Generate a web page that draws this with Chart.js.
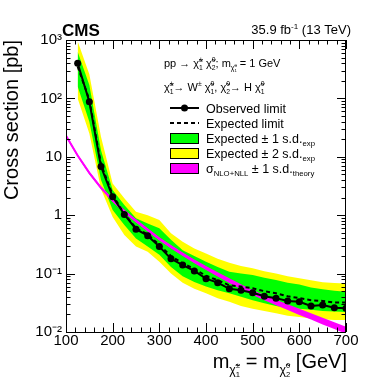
<!DOCTYPE html>
<html>
<head>
<meta charset="utf-8">
<script src="https://cdn.jsdelivr.net/npm/chart.js@4.4.1/dist/chart.umd.min.js"></script>
<style>
  html, body { margin: 0; padding: 0; background: #fff; }
  canvas { display: block; }
</style>
</head>
<body>
<canvas id="limitChart" width="366" height="391"></canvas>
<script>
// Masas de los puntos de la exclusión (GeV)
const masses = [125, 150, 175, 200, 225, 250, 275, 300, 325, 350, 375, 400,
                425, 450, 475, 500, 525, 550, 575, 600, 625, 650, 675, 700];

// Límites (pb)
const observed = [400, 88, 6.8, 2.07, 1.03, 0.575, 0.446, 0.29, 0.18, 0.140, 0.111, 0.082,
                  0.070, 0.055, 0.052, 0.047, 0.041, 0.038, 0.034, 0.033, 0.028, 0.029, 0.026, 0.0255];
const expected = [350, 95, 7.5, 2.2, 1.06, 0.60, 0.47, 0.31, 0.20, 0.15, 0.12, 0.092,
                  0.077, 0.063, 0.060, 0.056, 0.050, 0.046, 0.041, 0.038, 0.035, 0.034, 0.032, 0.032];
const exp1Up   = [630, 170, 13, 2.7, 1.5, 0.89, 0.72, 0.60, 0.38, 0.25, 0.20, 0.16,
                  0.13, 0.108, 0.100, 0.095, 0.085, 0.078, 0.070, 0.065, 0.058, 0.054, 0.051, 0.049];
const exp1Down = [160, 40, 4.0, 1.23, 0.68, 0.40, 0.29, 0.21, 0.13, 0.090, 0.072, 0.060,
                  0.052, 0.046, 0.040, 0.035, 0.031, 0.028, 0.026, 0.025, 0.024, 0.023, 0.0225, 0.022];
const exp2Up   = [950, 260, 22, 3.5, 1.95, 1.15, 1.0, 0.83, 0.49, 0.35, 0.27, 0.22,
                  0.18, 0.154, 0.135, 0.123, 0.110, 0.100, 0.090, 0.083, 0.077, 0.071, 0.069, 0.068];
const exp2Down = [100, 25, 2.8, 0.93, 0.46, 0.29, 0.237, 0.16, 0.10, 0.070, 0.055, 0.046,
                  0.038, 0.033, 0.028, 0.025, 0.023, 0.021, 0.019, 0.018, 0.017, 0.0165, 0.016, 0.016];

// Sección eficaz teórica NLO+NLL (pb)
const theoryMasses = [100, 125, 150, 175, 200, 225, 250, 275, 300, 325, 350, 375, 400,
                      425, 450, 475, 500, 525, 550, 575, 600, 625, 650, 675, 700];
const theoryXsec = [23, 10.5, 5.3, 2.95, 1.8, 1.17, 0.80, 0.56, 0.395, 0.29, 0.215, 0.162, 0.125,
                    0.097, 0.076, 0.060, 0.0475, 0.039, 0.0322, 0.0268, 0.0223, 0.0186, 0.0155, 0.013, 0.0108];
const theoryUp   = [24.4, 11.1, 5.6, 3.12, 1.91, 1.24, 0.85, 0.595, 0.42, 0.31, 0.23, 0.174, 0.135,
                    0.105, 0.083, 0.066, 0.052, 0.043, 0.0357, 0.0298, 0.025, 0.0209, 0.0175, 0.0147, 0.0123];
const theoryDown = [21.6, 9.9, 5.0, 2.78, 1.69, 1.10, 0.75, 0.525, 0.37, 0.27, 0.20, 0.150, 0.115,
                    0.089, 0.069, 0.054, 0.043, 0.035, 0.0287, 0.0238, 0.0196, 0.0163, 0.0135, 0.0113, 0.0093];

// Ejes
const xTickValues = [100, 200, 300, 400, 500, 600, 700];
const xTickLabels = ['100', '200', '300', '400', '500', '600', '700'];
const yTickValues = [0.01, 0.1, 1, 10, 100, 1000];
const yTickLabels = ['10\u207B\u00B2', '10\u207B\u00B9', '1', '10', '10\u00B2', '10\u00B3'];

const FONT = "'Liberation Sans', Arial, sans-serif";
const CHI = '\u03C7\u0303';

function pts(xs, ys) {
    return xs.map((x, i) => ({ x: x, y: ys[i] }));
}

// Texto con subíndices / superíndices (estilo ROOT)
function drawRich(ctx, parts, size, x, y, draw) {
    let w = 0;
    parts.forEach(p => {
        if (typeof p === 'string') {
            ctx.font = size + 'px ' + FONT;
            if (draw) ctx.fillText(p, x + w, y);
            w += ctx.measureText(p).width;
        } else {
            const s = size * 0.62;
            let ws = 0, wu = 0;
            if (p.sub) ws = drawRich(ctx, p.sub, s, x + w, y + size * 0.28, draw);
            if (p.sup) wu = drawRich(ctx, p.sup, s, x + w, y - size * 0.42, draw);
            w += Math.max(ws, wu);
        }
    });
    return w;
}

function drawRichRight(ctx, parts, size, xRight, y) {
    const w = drawRich(ctx, parts, size, 0, 0, false);
    drawRich(ctx, parts, size, xRight - w, y, true);
}

// Marco, marcas de los ejes, leyenda y textos
const decorPlugin = {
    id: 'decor',
    afterDatasetsDraw(chart) {
        const ctx = chart.ctx;
        const a = chart.chartArea;
        const xs = chart.scales.x, ys = chart.scales.y;
        ctx.save();
        ctx.strokeStyle = 'black';
        ctx.lineWidth = 1;
        ctx.beginPath();
        // marcas eje x
        for (let v = 100; v <= 700; v += 20) {
            const px = Math.round(xs.getPixelForValue(v)) + 0.5;
            const len = (v % 100 === 0) ? 9 : 4.5;
            ctx.moveTo(px, a.bottom); ctx.lineTo(px, a.bottom - len);
            ctx.moveTo(px, a.top); ctx.lineTo(px, a.top + len);
        }
        // marcas eje y (log)
        for (let k = -2; k <= 2; k++) {
            for (let m = 1; m <= 9; m++) {
                const v = m * Math.pow(10, k);
                const py = Math.round(ys.getPixelForValue(v)) + 0.5;
                const len = (m === 1) ? 9 : 4.5;
                ctx.moveTo(a.left, py); ctx.lineTo(a.left + len, py);
                ctx.moveTo(a.right, py); ctx.lineTo(a.right - len, py);
            }
        }
        ctx.stroke();
        ctx.strokeRect(Math.round(a.left) + 0.5, Math.round(a.top) + 0.5,
                       Math.round(a.right - a.left) - 1, Math.round(a.bottom - a.top));
        ctx.restore();
    },
    afterDraw(chart) {
        const ctx = chart.ctx;
        ctx.save();
        ctx.fillStyle = 'black';
        ctx.textBaseline = 'alphabetic';
        ctx.textAlign = 'left';

        ctx.font = 'bold 17px ' + FONT;
        ctx.fillText('CMS', 62, 36);
        drawRichRight(ctx, ['35.9 fb', { sup: ['-1'] }, ' (13 TeV)'], 13, 351, 34);

        // proceso
        drawRich(ctx, ['pp \u2192 ', CHI, { sup: ['\u00B1'], sub: ['1'] }, ' ', CHI, { sup: ['0'], sub: ['2'] },
                       '; m', { sub: [CHI, { sup: ['0'], sub: ['1'] }] }, ' = 1 GeV'], 11, 164, 67, true);
        drawRich(ctx, [CHI, { sup: ['\u00B1'], sub: ['1'] }, '\u2192 W', { sup: ['\u00B1'] }, ' ', CHI,
                       { sup: ['0'], sub: ['1'] }, ', ', CHI, { sup: ['0'], sub: ['2'] }, '\u2192 H ', CHI,
                       { sup: ['0'], sub: ['1'] }], 11, 164, 91, true);

        // leyenda
        const rows = [108, 123, 138, 153, 168];
        const x0 = 170, x1 = 199, tx = 206;
        ctx.strokeStyle = 'black';
        ctx.lineWidth = 2;
        ctx.beginPath(); ctx.moveTo(x0, rows[0]); ctx.lineTo(x1, rows[0]); ctx.stroke();
        ctx.beginPath(); ctx.arc((x0 + x1) / 2, rows[0], 3.5, 0, 2 * Math.PI); ctx.fill();
        ctx.setLineDash([4, 3]);
        ctx.beginPath(); ctx.moveTo(x0, rows[1]); ctx.lineTo(x1, rows[1]); ctx.stroke();
        ctx.setLineDash([]);
        ctx.lineWidth = 1;
        [['#00ff00', rows[2]], ['#ffff00', rows[3]], ['#ff00ff', rows[4]]].forEach(b => {
            ctx.fillStyle = b[0];
            ctx.fillRect(x0, b[1] - 5, x1 - x0, 10);
            ctx.strokeRect(x0 + 0.5, b[1] - 5 + 0.5, x1 - x0 - 1, 10);
        });
        ctx.fillStyle = 'black';
        const fs = 12.5, off = 4.5;
        drawRich(ctx, ['Observed limit'], fs, tx, rows[0] + off, true);
        drawRich(ctx, ['Expected limit'], fs, tx, rows[1] + off, true);
        drawRich(ctx, ['Expected \u00B1 1 s.d.', { sub: ['exp'] }], fs, tx, rows[2] + off, true);
        drawRich(ctx, ['Expected \u00B1 2 s.d.', { sub: ['exp'] }], fs, tx, rows[3] + off, true);
        drawRich(ctx, ['\u03C3', { sub: ['NLO+NLL'] }, ' \u00B1 1 s.d.', { sub: ['theory'] }], fs, tx, rows[4] + off, true);

        // título eje x
        drawRichRight(ctx, ['m', { sub: [CHI, { sup: ['\u00B1'], sub: ['1'] }] }, ' = m',
                            { sub: [CHI, { sup: ['0'], sub: ['2'] }] }, ' [GeV]'], 20, 347, 368);
        ctx.restore();
    }
};

const bandLine = { borderWidth: 0, pointRadius: 0, tension: 0 };

const ctx1 = document.getElementById('limitChart').getContext('2d');
const limitChart = new Chart(ctx1, {
    type: 'line',
    data: {
        datasets: [
            Object.assign({ data: pts(masses, exp2Up), fill: 1, backgroundColor: '#ffff00', order: 10 }, bandLine),
            Object.assign({ data: pts(masses, exp2Down), fill: false, order: 10 }, bandLine),
            Object.assign({ data: pts(masses, exp1Up), fill: 3, backgroundColor: '#00ff00', order: 8 }, bandLine),
            Object.assign({ data: pts(masses, exp1Down), fill: false, order: 8 }, bandLine),
            Object.assign({ data: pts(theoryMasses, theoryUp), fill: 5, backgroundColor: '#ff00ff', order: 6 }, bandLine),
            Object.assign({ data: pts(theoryMasses, theoryDown), fill: false, order: 6 }, bandLine),
            {
                data: pts(theoryMasses, theoryXsec),
                borderColor: '#ff00ff', borderWidth: 2, pointRadius: 0, fill: false, order: 5
            },
            {
                data: pts(masses, expected),
                borderColor: 'black', borderWidth: 2, borderDash: [4, 3], pointRadius: 0, fill: false, order: 2
            },
            {
                data: pts(masses, observed),
                borderColor: 'black', borderWidth: 2, fill: false, order: 1,
                pointRadius: 3.5, pointBackgroundColor: 'black', pointBorderColor: 'black', pointBorderWidth: 0
            }
        ]
    },
    options: {
        responsive: false,
        devicePixelRatio: 1,
        animation: false,
        layout: { padding: { left: 0, right: 20, top: 40, bottom: 0 } },
        plugins: { legend: { display: false }, tooltip: { enabled: false } },
        scales: {
            x: {
                type: 'linear', min: 100, max: 700,
                grid: { display: false, drawTicks: false, tickLength: 0 }, border: { display: false },
                ticks: {
                    color: 'black', font: { family: FONT, size: 15 }, padding: 0,
                    maxRotation: 0, autoSkip: false,
                    callback: v => xTickLabels[xTickValues.indexOf(v)]
                },
                afterBuildTicks: s => { s.ticks = xTickValues.map(v => ({ value: v })); },
                afterFit: s => { s.height = 59; }
            },
            y: {
                type: 'logarithmic', min: 0.01, max: 1000,
                grid: { display: false, drawTicks: false, tickLength: 0 }, border: { display: false },
                ticks: {
                    color: 'black', font: { family: FONT, size: 15 }, padding: 4, autoSkip: false,
                    callback: v => {
                        const i = yTickValues.findIndex(t => Math.abs(t - v) / t < 1e-6);
                        return i >= 0 ? yTickLabels[i] : '';
                    }
                },
                title: {
                    display: true, text: 'Cross section [pb]', align: 'end', color: 'black',
                    font: { family: FONT, size: 20 }, padding: { top: 0, bottom: 0 }
                },
                afterBuildTicks: s => { s.ticks = yTickValues.map(v => ({ value: v })); },
                afterFit: s => { s.width = 66; }
            }
        }
    },
    plugins: [decorPlugin]
});
</script>
</body>
</html>
